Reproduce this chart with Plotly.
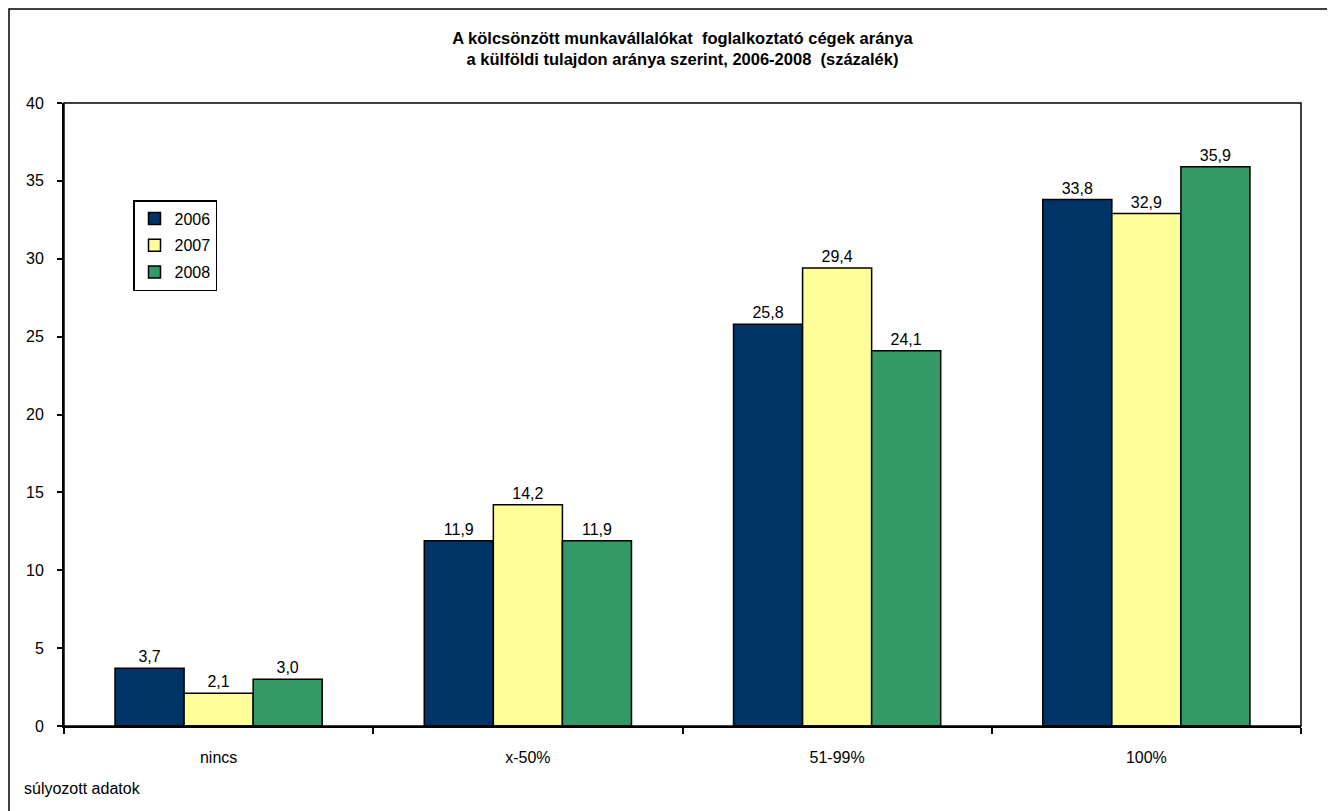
import plotly.graph_objects as go

categories = ["nincs", "x-50%", "51-99%", "100%"]
years = ["2006", "2007", "2008"]
values_2006 = [3.7, 11.9, 25.8, 33.8]
values_2007 = [2.1, 14.2, 29.4, 32.9]
values_2008 = [3.0, 11.9, 24.1, 35.9]
colors = ["#003366", "#FFFF99", "#339966"]
y_ticks = [0, 5, 10, 15, 20, 25, 30, 35, 40]

FONT = "Arial, Liberation Sans, sans-serif"
OFF = 8  # page body margin
W, H = 1335 - OFF, 811 - OFF
# screen-pixel geometry of the plot area
SX0, SX1, SY0, SY1 = 64, 1301, 103, 726
ML, MR, MT, MB = SX0 - OFF, W - (SX1 - OFF), SY0 - OFF, H - (SY1 - OFF)
PW, PH = W - ML - MR, H - MT - MB

def sx(px):
    return (px - OFF - ML) / PW

def sy(py):
    return (H - MB - (py - OFF)) / PH

fig = go.Figure()
for i, (yr, vals) in enumerate(zip(years, [values_2006, values_2007, values_2008])):
    fig.add_trace(go.Bar(
        name=yr, x=categories, y=vals,
        marker=dict(color=colors[i], line=dict(color="black", width=1.5)),
        texttemplate="%{y:.1f}", textposition="outside",
        textfont=dict(family=FONT, size=16, color="black"),
        cliponaxis=False, legendgroup=yr,
    ))

fig.update_layout(
    width=W, height=H,
    margin=dict(l=ML, r=MR, t=MT, b=MB),
    paper_bgcolor="white", plot_bgcolor="white",
    separators=", ",
    barmode="group", bargap=0.33, bargroupgap=0,
    font=dict(family=FONT, size=16, color="black"),
    title=dict(
        text="<b>A kölcsönzött munkavállalókat  foglalkoztató cégek aránya<br>a külföldi tulajdon aránya szerint, 2006-2008  (százalék)</b>",
        x=0.5, xref="paper", y=1 - (44 - OFF) / H, yanchor="middle",
        font=dict(family=FONT, size=16.5, color="black"),
    ),
    showlegend=True,
    legend=dict(
        x=sx(133), y=sy(200), xanchor="left", yanchor="top",
        bordercolor="black", borderwidth=1.5, bgcolor="white",
        font=dict(family=FONT, size=16, color="black"),
        tracegroupgap=3, itemwidth=30,
    ),
    xaxis=dict(
        showline=True, linecolor="black", linewidth=2,
        ticks="outside", tickson="boundaries", ticklen=6, tickwidth=1.5, tickcolor="black",
        ticklabelstandoff=16, showgrid=False,
        tickfont=dict(family=FONT, size=16, color="black"),
    ),
    yaxis=dict(
        range=[0, 40], tickvals=y_ticks, showline=True, linecolor="black", linewidth=2,
        ticks="outside", ticklen=5, tickwidth=1.5, tickcolor="black",
        showgrid=False, zeroline=False, ticklabelstandoff=10,
        tickfont=dict(family=FONT, size=16, color="black"),
    ),
    shapes=[
        dict(type="rect", xref="paper", yref="paper", x0=0, x1=1, y0=0, y1=1,
             line=dict(color="black", width=1.5), layer="above"),
        dict(type="rect", xref="paper", yref="paper",
             x0=sx(9), x1=sx(1331), y0=sy(812), y1=sy(9),
             line=dict(color="black", width=1.5)),
    ],
    annotations=[
        dict(text="súlyozott adatok", xref="paper", yref="paper",
             x=sx(22), y=sy(788), xanchor="left", yanchor="middle",
             showarrow=False, font=dict(family=FONT, size=16, color="black")),
    ],
)

fig.write_html("out.html")
